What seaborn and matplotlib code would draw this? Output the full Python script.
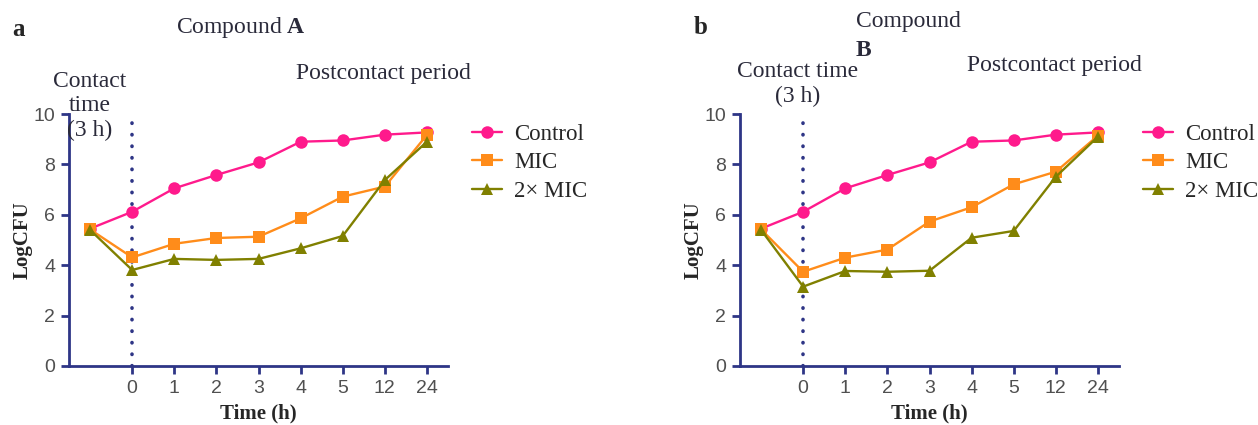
import matplotlib
matplotlib.use("Agg")
import matplotlib.pyplot as plt
import seaborn as sns
import pandas as pd
import numpy as np

# ---- data ----
time_labels = ["pre", "0", "1", "2", "3", "4", "5", "12", "24"]
series_names = ["Control", "MIC", "2\u00d7 MIC"]

a_control = [5.45, 6.12, 7.05, 7.58, 8.08, 8.90, 8.95, 9.18, 9.27]
a_mic     = [5.42, 4.31, 4.85, 5.08, 5.13, 5.86, 6.72, 7.12, 9.17]
a_mic2    = [5.40, 3.81, 4.25, 4.21, 4.25, 4.67, 5.16, 7.38, 8.90]

b_control = [5.45, 6.12, 7.05, 7.58, 8.08, 8.90, 8.95, 9.18, 9.27]
b_mic     = [5.42, 3.74, 4.30, 4.62, 5.73, 6.30, 7.21, 7.71, 9.14]
b_mic2    = [5.40, 3.15, 3.77, 3.74, 3.78, 5.09, 5.36, 7.51, 9.10]

colors = {"Control": "#ff1a8c", "MIC": "#ff8c1a", "2\u00d7 MIC": "#808000"}
markers = {"Control": "o", "MIC": "s", "2\u00d7 MIC": "^"}
axis_color = "#2e3586"
tick_label_color = "#505050"
text_color = "#2a2a3a"


def make_df(ctrl, mic, mic2):
    rows = []
    for name, vals in zip(series_names, [ctrl, mic, mic2]):
        for i, v in enumerate(vals):
            rows.append({"pos": i - 1, "series": name, "val": v})
    return pd.DataFrame(rows)


sns.set_theme(style="white")
plt.rcParams["font.family"] = ["Liberation Serif", "DejaVu Serif"]
plt.rcParams["mathtext.fontset"] = "custom"
plt.rcParams["mathtext.rm"] = "Liberation Serif"
plt.rcParams["mathtext.bf"] = "Liberation Serif:bold"

fig = plt.figure(figsize=(12.58, 4.25), dpi=100)
ax_a = fig.add_axes([69 / 1258, 59 / 425, 379 / 1258, 252 / 425])
ax_b = fig.add_axes([740 / 1258, 59 / 425, 379 / 1258, 252 / 425])

for ax, data in [(ax_a, (a_control, a_mic, a_mic2)), (ax_b, (b_control, b_mic, b_mic2))]:
    df = make_df(*data)
    sns.lineplot(data=df, x="pos", y="val", hue="series", style="series",
                 palette=colors, markers=markers, dashes=False, ax=ax,
                 linewidth=1.7, markersize=9, markeredgewidth=0, legend=True)
    ax.axvline(0, ymin=0, ymax=0.995, color=axis_color, linestyle=(0, (0.1, 3.1)),
               linewidth=2.6, dash_capstyle="round", zorder=0)
    ax.set_xlim(-1.5, 7.5)
    ax.set_ylim(0, 10)
    ax.set_xticks(range(0, 8))
    ax.set_xticklabels(time_labels[1:])
    ax.set_yticks(range(0, 11, 2))
    for side in ["top", "right"]:
        ax.spines[side].set_visible(False)
    for side in ["left", "bottom"]:
        ax.spines[side].set_color(axis_color)
        ax.spines[side].set_linewidth(2)
    ax.tick_params(axis="both", direction="out", length=6, width=2, color=axis_color,
                   labelcolor=tick_label_color, labelsize=14, pad=4, bottom=True, left=True)
    for lbl in ax.get_xticklabels() + ax.get_yticklabels():
        lbl.set_fontfamily(["Liberation Sans", "DejaVu Sans"])
    ax.set_xlabel("Time (h)", fontsize=15, fontweight="bold", labelpad=5)
    ax.set_ylabel("LogCFU", fontsize=15, fontweight="bold", labelpad=0.5)
    handles, labels = ax.get_legend_handles_labels()
    ax.get_legend().remove()
    leg = ax.legend(handles, labels, loc="upper left", bbox_to_anchor=(1.063, 0.962),
                    frameon=False, fontsize=16.5, handlelength=1.3, handletextpad=0.55,
                    labelspacing=0.33, borderaxespad=0, borderpad=0)
    ax.set_facecolor("white")

# annotations panel a
fig.text(12 / 1258, 1 - 29 / 425, "a", fontsize=18, fontweight="bold", va="center", ha="left")
fig.text(241 / 1258, 1 - 27 / 425, "Compound $\\mathbf{A}$", fontsize=17, va="center", ha="center",
         color=text_color)
fig.text(90 / 1258, 1 - 106 / 425, "Contact\ntime\n(3 h)", fontsize=17, va="center", ha="center",
         color=text_color, linespacing=1.2)
fig.text(383 / 1258, 1 - 73 / 425, "Postcontact period", fontsize=17, va="center", ha="center",
         color=text_color)

# annotations panel b
fig.text(694 / 1258, 1 - 27 / 425, "b", fontsize=18, fontweight="bold", va="center", ha="left")
fig.text(856 / 1258, 1 - 22 / 425, "Compound", fontsize=17, va="center", ha="left", color=text_color)
fig.text(856 / 1258, 1 - 50 / 425, "B", fontsize=17, fontweight="bold", va="center", ha="left",
         color=text_color)
fig.text(798 / 1258, 1 - 84 / 425, "Contact time\n(3 h)", fontsize=17, va="center", ha="center",
         color=text_color, linespacing=1.2)
fig.text(967 / 1258, 1 - 65 / 425, "Postcontact period", fontsize=17, va="center", ha="left",
         color=text_color)

fig.savefig("out.png", dpi=100, facecolor="white")
